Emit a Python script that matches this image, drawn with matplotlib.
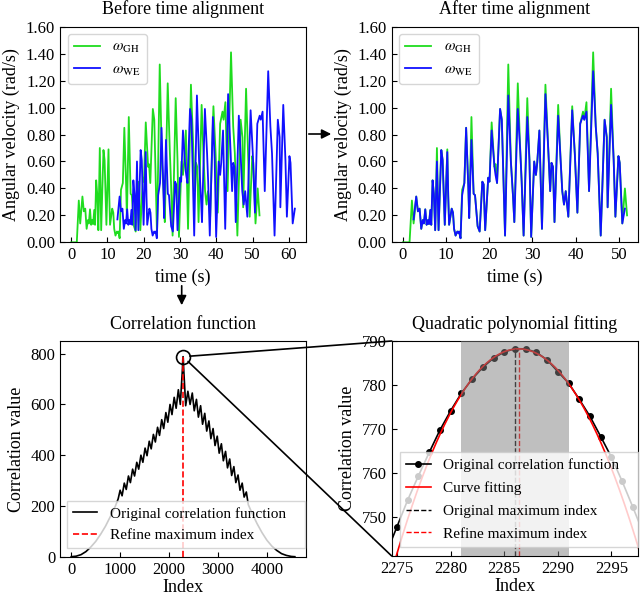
import numpy as np
import matplotlib.pyplot as plt
from matplotlib.patches import ConnectionPatch, FancyArrowPatch

plt.rcParams['font.family'] = 'serif'
plt.rcParams['font.serif'] = ['Liberation Serif', 'DejaVu Serif']
plt.rcParams['mathtext.fontset'] = 'stix'
plt.rcParams['xtick.direction'] = 'in'
plt.rcParams['ytick.direction'] = 'in'

nan = np.nan

t = [0.0, 1.54, 2.09, 2.48, 3.09, 3.48, 3.87, 4.25, 4.60, 4.86, 5.18, 5.49, 5.80, 6.04,
     6.35, 6.57, 6.88, 7.17, 7.48, 7.88, 8.26, 8.89, 9.20, 9.70, 10.28, 10.50, 10.70,
     11.30, 11.60, 11.85, 12.20, 12.60, 12.85, 13.00, 13.35, 13.72, 14.23, 14.64, 15.15,
     15.35, 15.87, 16.38, 16.70, 17.30, 17.77, 18.39, 18.70, 19.05, 19.76, 20.05, 20.55,
     21.20, 21.45, 21.80, 22.50, 22.90, 23.65, 24.40, 25.00, 25.50, 25.80, 26.60, 27.20,
     27.50, 27.95, 28.80, 29.30, 29.70, 30.40, 30.80, 31.10, 31.60, 32.20, 33.00, 33.70,
     34.10, 34.40, 34.75, 35.10, 35.95, 36.50, 36.90, 37.30, 37.70, 38.30, 39.20, 39.80,
     40.40, 41.05, 41.70, 42.00, 42.50, 43.10, 44.05, 44.65, 45.10, 45.80, 46.70, 47.20,
     47.40, 48.20, 48.80, 49.20, 49.90, 50.20, 50.80, 51.40, 51.90]
w_gh = [0.0, 0.0, 0.31, 0.14, 0.34, 0.23, 0.25, 0.10, 0.165, 0.14, 0.245, 0.13, 0.165, 0.135,
        0.24, 0.13, 0.46, 0.36, 0.09, 0.70, 0.09, 0.685, 0.61, 0.13, 0.69, 0.34, 0.13,
        0.25, 0.22, 0.10, 0.05, 0.08, 0.07, 0.08, 0.03, 0.39, 0.44, 0.85, 0.41,
        0.18, 0.93, 0.36, 0.35, 0.12, 0.08, 0.45, 0.43, 0.09, 0.48, 0.45, 0.89,
        0.56, 0.58, 0.44, 0.99, 0.91, 0.05, 1.32, 0.60, 0.34, 0.15, 1.18, 0.66,
        0.45, 0.05, 1.07, 0.61, 0.04, 0.60, 0.50, 0.59, 0.83, 0.10, 1.17, 0.66,
        0.38, 0.59, 0.56, 0.15, 1.02, 0.62, 0.38, 0.28, 0.38, 0.19, 1.01, 0.66,
        0.22, 0.88, 0.97, 0.91, 1.04, 0.38, 1.41, 0.86, 0.66, 0.05, 0.91, 0.78,
        0.26, 1.14, 0.61, 0.19, 0.64, 0.59, 0.14, 0.40, 0.20]
w_we = [nan, nan, nan, 0.17, 0.34, 0.23, 0.25, 0.10, 0.165, 0.14, 0.245, 0.13, 0.165, 0.135,
        0.24, 0.13, 0.46, 0.36, 0.09, 0.60, 0.09, 0.685, 0.61, 0.13, 0.67, 0.34, 0.13,
        0.25, 0.22, 0.10, 0.05, 0.08, 0.07, 0.08, 0.03, 0.35, 0.44, 0.85, 0.41,
        0.18, 0.76, 0.36, 0.35, 0.12, 0.08, 0.45, 0.43, 0.09, 0.48, 0.45, 0.83,
        0.56, 0.50, 0.44, 0.99, 0.91, 0.05, 1.09, 0.60, 0.34, 0.15, 0.99, 0.66,
        0.45, 0.05, 0.93, 0.61, 0.04, 0.60, 0.50, 0.59, 0.83, 0.10, 1.10, 0.66,
        0.38, 0.59, 0.56, 0.15, 0.94, 0.62, 0.38, 0.28, 0.38, 0.19, 0.98, 0.66,
        0.22, 0.88, 0.94, 0.91, 0.97, 0.38, 1.27, 0.86, 0.66, 0.05, 0.91, 0.78,
        0.26, 1.02, 0.61, 0.19, 0.64, 0.59, 0.14, 0.25, nan]
lag = 10.25  # s, delay of the WE recording before alignment

# correlation function, coarse vertices away from the peak
corr_idx = [0, 100, 200, 300, 400, 500, 600, 700, 800, 900, 960,
            1000, 1040, 1085, 1125, 1170, 1210, 1255, 1295, 1340, 1380, 1425, 1465,
            1510, 1550, 1595, 1635, 1680, 1720, 1765, 1805, 1850, 1890, 1935, 1975,
            2020, 2060, 2105, 2145, 2190, 2230,
            2340, 2385, 2430, 2475, 2515, 2560, 2600, 2645, 2685, 2730, 2770, 2815,
            2855, 2900, 2940, 2985, 3025, 3070, 3110, 3155, 3195, 3240, 3280, 3325,
            3365, 3410, 3450, 3495, 3535, 3580, 3620,
            3700, 3800, 3900, 4000, 4100, 4200, 4300, 4400, 4500, 4572]
corr_val = [0, 2, 8, 20, 38, 60, 88, 120, 158, 198, 228,
            262, 240, 290, 265, 318, 292, 345, 318, 372, 345, 400, 372,
            428, 398, 455, 425, 482, 452, 510, 478, 540, 505, 568, 530,
            600, 560, 628, 585, 658, 600,
            595, 652, 600, 645, 575, 620, 550, 595, 522, 565, 495, 535,
            465, 505, 438, 475, 408, 445, 378, 415, 350, 385, 320, 355,
            292, 322, 262, 290, 235, 255, 205,
            170, 130, 95, 65, 42, 25, 12, 5, 1, 0]

# correlation samples around the maximum
peak_idx = list(range(2274, 2299))
peak_val = [741.6, 747.7, 753.8, 759.3, 764.6, 769.7, 774.1, 778.1, 781.3, 784.0, 786.1,
            787.5, 788.25, 788.2, 787.4, 785.7, 783.0, 780.4, 776.7, 772.8, 768.2,
            763.5, 758.0, 752.1, 746.0]
fit_lo, fit_hi = 2281, 2291

green = '#1fdc1f'
blue = '#1010ff'
fs = 13

fig = plt.figure(figsize=(6.4, 5.97), dpi=100)
ax1 = fig.add_axes([0.0938, 0.5941, 0.3844, 0.3611])
ax2 = fig.add_axes([0.612, 0.5941, 0.3853, 0.3611])
ax3 = fig.add_axes([0.0938, 0.0675, 0.3844, 0.3613])
ax4 = fig.add_axes([0.612, 0.0687, 0.3853, 0.3601])

t_arr = np.array(t)
lab_gh = r'$\omega_{\rm GH}$'
lab_we = r'$\omega_{\rm WE}$'

# before alignment
ax1.plot(t_arr, w_gh, color=green, lw=1.3, label=lab_gh)
ax1.plot(t_arr + lag, w_we, color=blue, lw=1.3, label=lab_we)
ax1.set_title('Before time alignment', fontsize=fs, pad=9)

# after alignment
ax2.plot(t_arr, w_gh, color=green, lw=1.3, label=lab_gh)
ax2.plot(t_arr, w_we, color=blue, lw=1.3, label=lab_we)
ax2.set_title('After time alignment', fontsize=fs, pad=9)

for ax in (ax1, ax2):
    ax.set_ylim(0, 1.6)
    ax.set_yticks(np.arange(0, 1.61, 0.2))
    ax.yaxis.set_major_formatter(plt.FormatStrFormatter('%.2f'))
    ax.set_xlabel('time (s)', fontsize=fs)
    ax.set_ylabel('Angular velocity (rad/s)', fontsize=fs)
    ax.legend(loc='upper left', fontsize=11, handlelength=1.7)
ax1.set_xticks(range(0, 61, 10))
ax2.set_xticks(range(0, 51, 10))

# correlation function
pk = np.array(peak_idx)
pv = np.array(peak_val)
all_idx = np.array(corr_idx + peak_idx)
all_val = np.array(corr_val + peak_val)
order = np.argsort(all_idx)
sel = (pk >= fit_lo) & (pk <= fit_hi)
coef = np.polyfit(pk[sel], pv[sel], 2)
refined = -coef[1] / (2 * coef[0])
orig_max = pk[np.argmax(pv)]
vmax = pv.max()

ax3.plot(all_idx[order], all_val[order], color='k', lw=1.2, label='Original correlation function')
ax3.vlines(refined, 0, vmax, colors='red', linestyles='--', lw=1.2, label='Refine maximum index')
ax3.plot(orig_max, vmax, 'o', ms=10, mfc='none', mec='k', mew=1.2)
ax3.set_ylim(0, 850)
ax3.set_xticks(range(0, 4001, 1000))
ax3.set_yticks(range(0, 801, 200))
ax3.set_title('Correlation function', fontsize=fs, pad=9)
ax3.set_xlabel('Index', fontsize=fs, labelpad=1)
ax3.set_ylabel('Correlation value', fontsize=fs)
ax3.legend(loc='lower left', bbox_to_anchor=(0.028, 0.04, 0.967, 0.2), mode='expand',
           borderaxespad=0, fontsize=11, handlelength=1.6, fancybox=False, labelspacing=0.5)

# quadratic fitting around the peak
xf = np.linspace(2274, 2298, 300)
ax4.plot(pk, pv, 'o-', color='k', ms=4, lw=1.2, label='Original correlation function')
ax4.plot(xf, np.polyval(coef, xf), color='red', lw=1.2, label='Curve fitting')
ax4.vlines(orig_max, 741, vmax, colors='k', linestyles='--', lw=1.0, label='Original maximum index')
ax4.vlines(refined, 741, vmax, colors='red', linestyles='--', lw=1.0, label='Refine maximum index')
ax4.axvspan(fit_lo, fit_hi, color='gray', alpha=0.5, lw=0, zorder=3)
ax4.set_xlim(2274.5, 2297.5)
ax4.set_ylim(741, 790)
ax4.set_xticks(range(2275, 2296, 5))
ax4.set_yticks(range(750, 791, 10))
ax4.set_title('Quadratic polynomial fitting', fontsize=fs, pad=9)
ax4.set_xlabel('Index', fontsize=fs, labelpad=1)
ax4.set_ylabel('Correlation value', fontsize=fs)
leg = ax4.legend(loc='lower left', bbox_to_anchor=(0.034, 0.042, 0.966, 0.4), mode='expand',
                 borderaxespad=0, fontsize=11, handlelength=1.6, fancybox=False, labelspacing=0.6)
leg.set_zorder(5)

for ax in (ax1, ax2, ax3, ax4):
    ax.tick_params(labelsize=12, length=3.5)

# zoom lines from the circle to the right panel
for corner in [(0, 1), (0, 0)]:
    con = ConnectionPatch(xyA=(orig_max, vmax), coordsA=ax3.transData,
                          xyB=corner, coordsB=ax4.transAxes,
                          color='k', lw=1.2, shrinkA=5, shrinkB=0)
    fig.add_artist(con)

# arrows between panels
fig.add_artist(FancyArrowPatch((306 / 640, 1 - 134 / 597), (334 / 640, 1 - 134 / 597),
                               transform=fig.transFigure, arrowstyle='-|>',
                               mutation_scale=14, color='k', lw=1.2))
fig.add_artist(FancyArrowPatch((181.7 / 640, 1 - 283 / 597), (181.7 / 640, 1 - 308 / 597),
                               transform=fig.transFigure, arrowstyle='-|>',
                               mutation_scale=14, color='k', lw=1.2))

fig.savefig('out.png', dpi=100)
